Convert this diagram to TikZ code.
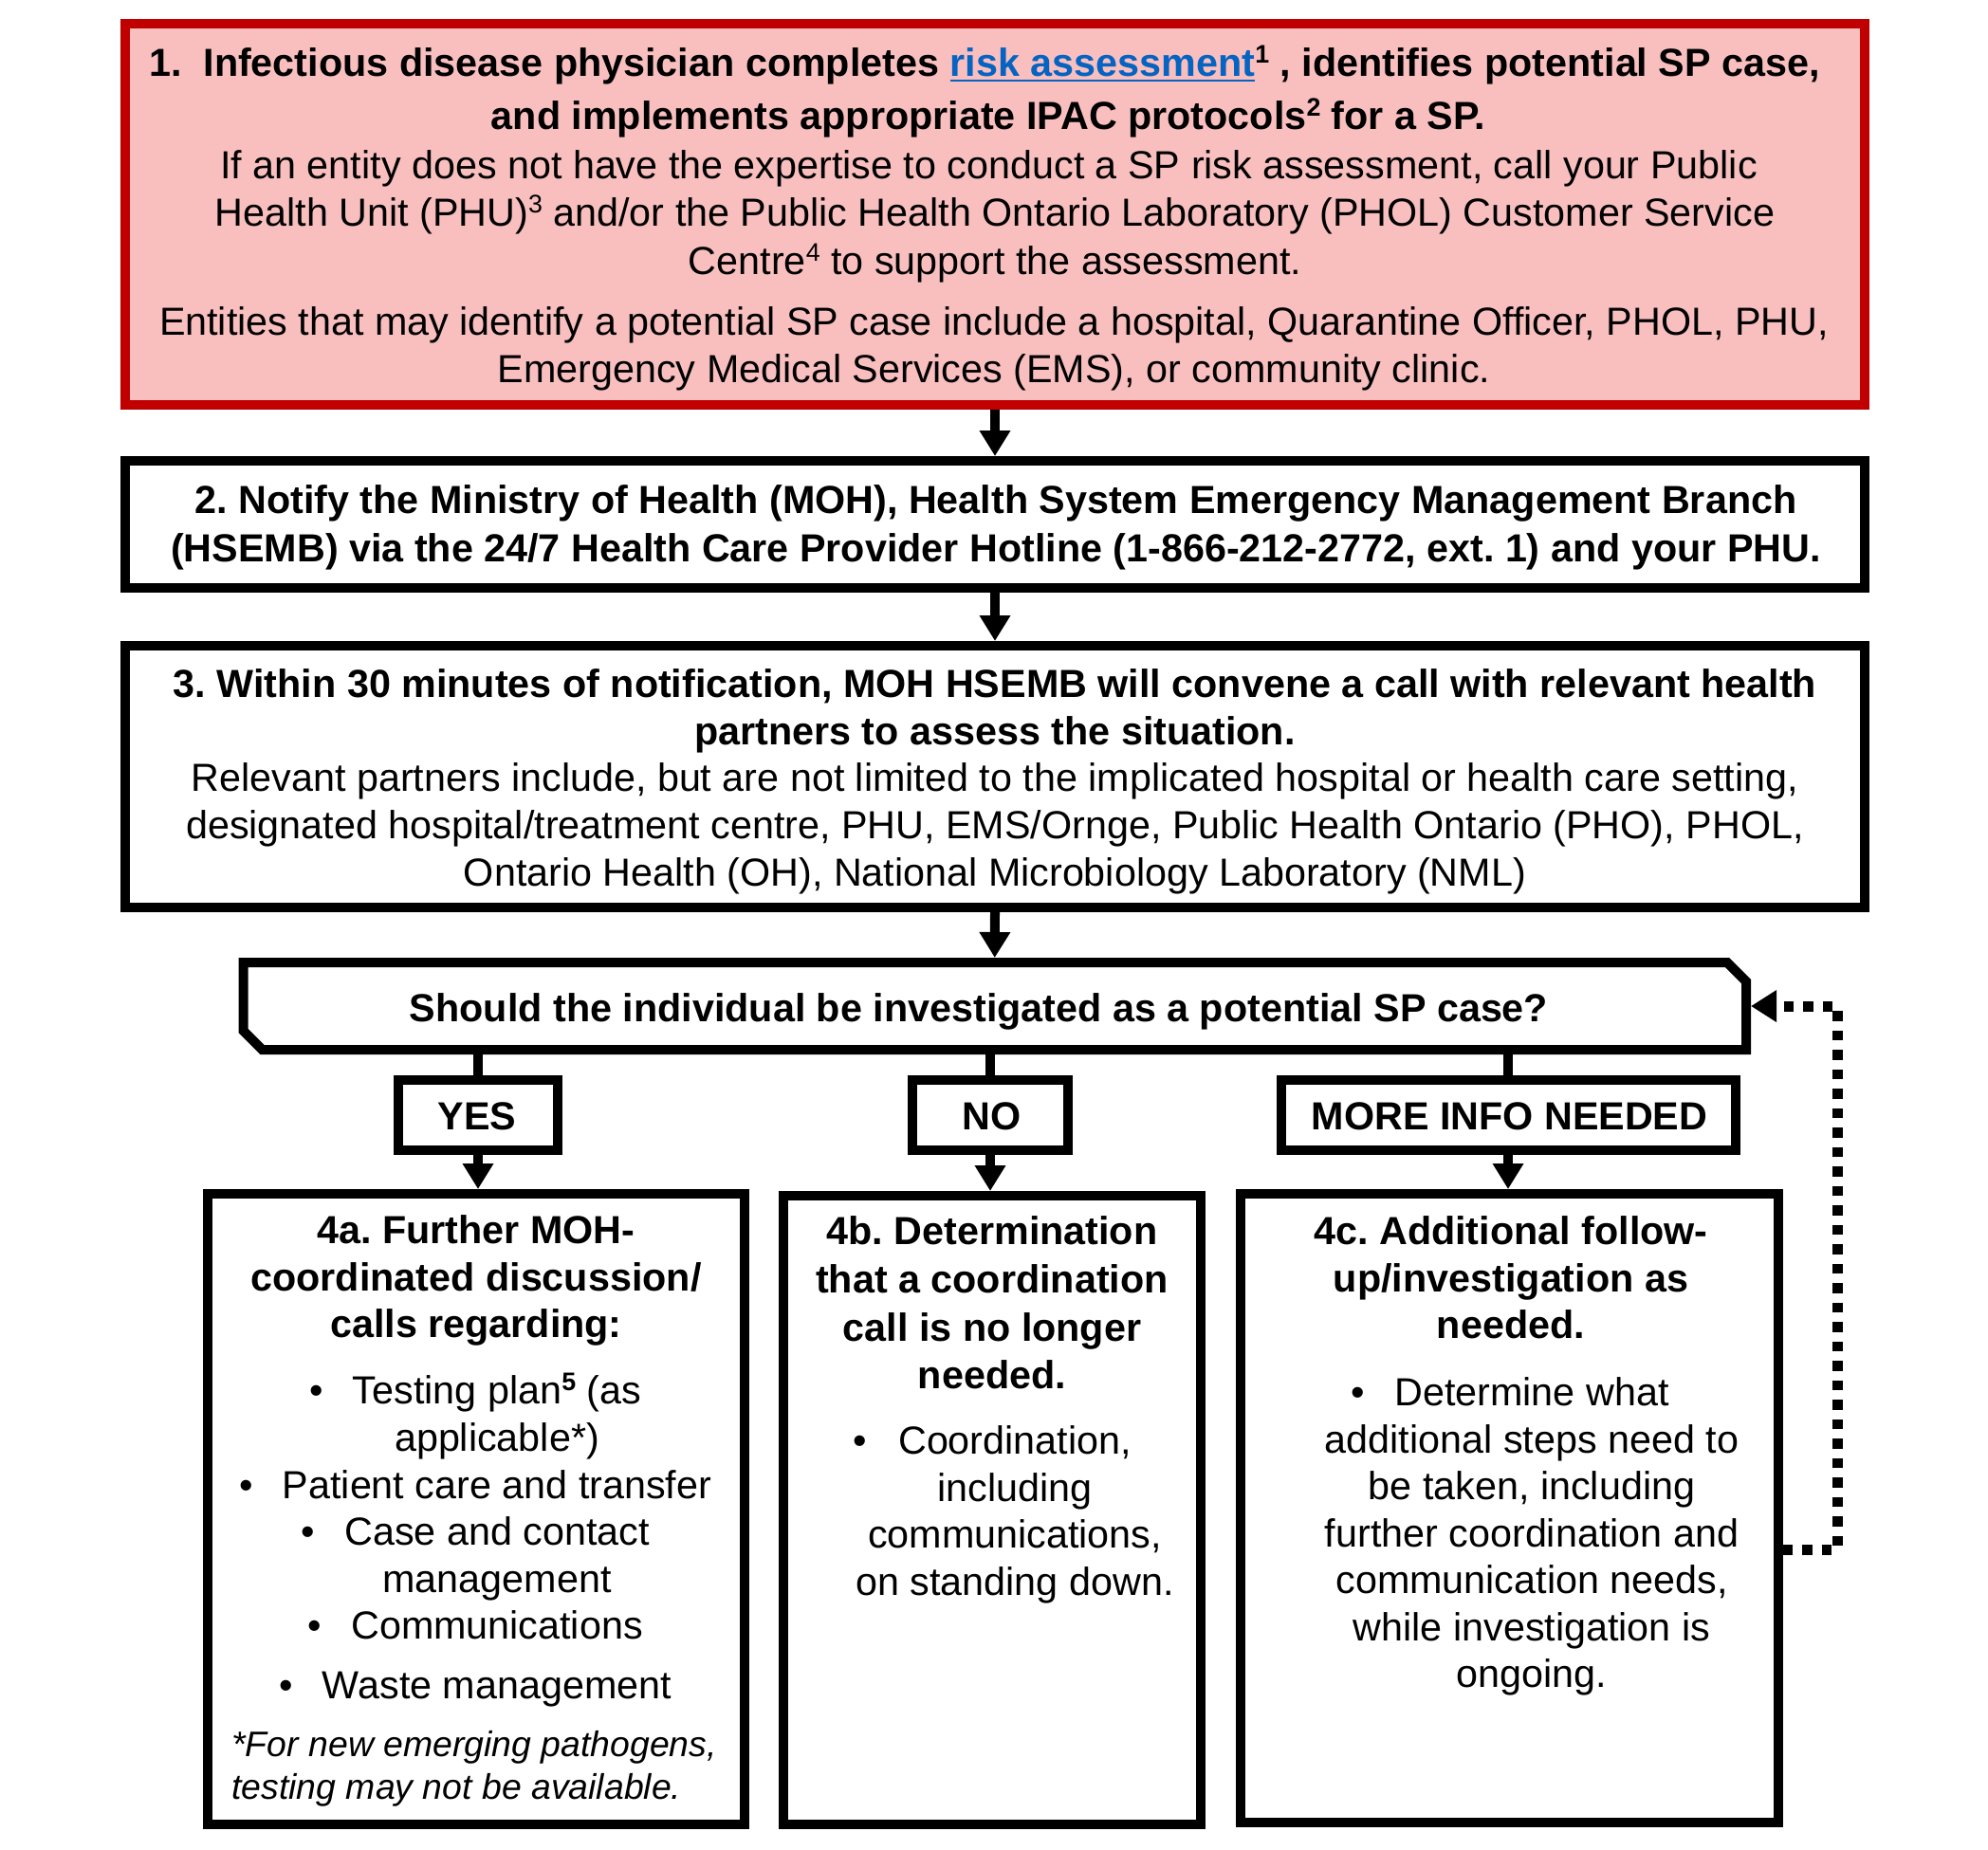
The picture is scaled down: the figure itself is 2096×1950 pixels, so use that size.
\documentclass[tikz,border=0pt]{standalone}
\usepackage{fontspec}
\setmainfont{Liberation Sans}
\usetikzlibrary{arrows.meta,calc}
\definecolor{pinkfill}{RGB}{249,191,191}
\definecolor{darkred}{RGB}{192,0,0}
\definecolor{linkblue}{RGB}{5,99,193}
\frenchspacing
\newcommand{\sups}[1]{\raisebox{0.33em}{\fontsize{13.4}{14}\selectfont #1}}
\newcommand{\lnk}[1]{\textcolor{linkblue}{\setbox0\hbox{#1}\rlap{\rule[-3.2pt]{\wd0}{1.4pt}}\box0}}
\begin{document}
\begin{tikzpicture}[x=0.5pt,y=-0.5pt,
  box/.style={draw=black, line width=5pt, fill=white, inner sep=0pt},
  redbox/.style={draw=darkred, line width=5pt, fill=pinkfill, inner sep=0pt},
  hidbox/.style={draw=none, inner sep=0pt, outer sep=0pt},
  rt/.style={inner sep=0pt, anchor=base, font=\fontsize{20.65}{24}\selectfont},
  bt/.style={inner sep=0pt, anchor=base, font=\fontsize{20.65}{24}\selectfont\bfseries},
  itx/.style={inner sep=0pt, anchor=base west, font=\fontsize{18.7}{22}\selectfont\itshape},
  conn/.style={line width=5pt, -{Triangle[length=13.5pt,width=15.5pt]}},
  plain/.style={line width=5pt},
  decline/.style={line width=5pt, line join=miter},
  fbline/.style={line width=5.5pt, dash pattern=on 5.25pt off 5pt, -{Triangle[length=13.5pt,width=16pt]}}
]
\fill[white] (0,0) rectangle (2096,1950);
\useasboundingbox (0,0) rectangle (2096,1950);

% ---------- boxes ----------
\node[redbox, minimum width=917pt, minimum height=201pt] (b1) at (1049,226) {};
\node[box, minimum width=917pt, minimum height=67pt] (b2) at (1049,553) {};
\node[box, minimum width=917pt, minimum height=138pt] (b3) at (1049,819) {};
\node[hidbox, minimum width=792.25pt, minimum height=46pt] (dec) at (1048.75,1061) {};
\draw[decline] (dec.north west) -- ($(dec.north east)+(-20,0)$) -- ($(dec.north east)+(0,20)$)
  -- (dec.south east) -- ($(dec.south west)+(20,0)$) -- ($(dec.south west)+(0,-20)$) -- cycle;
\coordinate (decN) at ($(dec.north)+(0,-5)$);
\coordinate (decE) at ($(dec.east)+(5,0)$);
\node[box, minimum width=84pt, minimum height=37pt] (yes) at (504,1176) {};
\node[box, minimum width=82.25pt, minimum height=37pt] (no) at (1044,1176) {};
\node[box, minimum width=239.5pt, minimum height=37pt] (more) at (1590,1176) {};
\node[box, minimum width=283pt, minimum height=332.5pt] (a4) at (502,1591.5) {};
\node[box, minimum width=220pt, minimum height=331.5pt] (b4) at (1046,1592.5) {};
\node[box, minimum width=283.5pt, minimum height=331.5pt] (c4) at (1591,1590.5) {};

% ---------- connectors ----------
\draw[conn] (b1.south) -- (b2.north);
\draw[conn] (b2.south) -- (b3.north);
\draw[conn] (b3.south) -- (decN);
\draw[plain] (yes.north |- dec.south) -- (yes.north);
\draw[plain] (no.north |- dec.south) -- (no.north);
\draw[plain] (more.north |- dec.south) -- (more.north);
\draw[conn] (yes.south) -- (yes.south |- a4.north);
\draw[conn] (no.south) -- (no.south |- b4.north);
\draw[conn] (more.south) -- (more.south |- c4.north);
\coordinate (fbA) at (1937,1634);
\coordinate (fbB) at (1937,1061);
\draw[fbline] (c4.east |- fbA) -- (fbA) -- (fbB) -- (decE);

% ---------- box 1 text ----------
\node[bt] (t1) at (1038,80) {1.\ \ Infectious disease physician completes \lnk{risk assessment}\sups{1} , identifies potential SP case,};
\node[bt] (t2) at (1042,136) {and implements appropriate IPAC protocols\sups{2} for a SP.};
\node[rt] (t3) at (1042.5,188) {If an entity does not have the expertise to conduct a SP risk assessment, call your Public};
\node[rt] (t4) at (1049,238) {Health Unit (PHU)\sups{3} and/or the Public Health Ontario Laboratory (PHOL) Customer Service};
\node[rt] (t5) at (1049,289) {Centre\sups{4} to support the assessment.};
\node[rt] (t6) at (1048,353) {Entities that may identify a potential SP case include a hospital, Quarantine Officer, PHOL, PHU,};
\node[rt] (t7) at (1048,403) {Emergency Medical Services (EMS), or community clinic.};

% ---------- box 2 text ----------
\node[bt] (u1) at (1050,541) {2. Notify the Ministry of Health (MOH), Health System Emergency Management Branch};
\node[bt] (u2) at (1050,592) {(HSEMB) via the 24/7 Health Care Provider Hotline (1-866-212-2772, ext. 1) and your PHU.};

% ---------- box 3 text ----------
\node[bt] (v1) at (1049,735) {3. Within 30 minutes of notification, MOH HSEMB will convene a call with relevant health};
\node[bt] (v2) at (1049,785) {partners to assess the situation.};
\node[rt] (v3) at (1049,834) {Relevant partners include, but are not limited to the implicated hospital or health care setting,};
\node[rt] (v4) at (1049,884) {designated hospital/treatment centre, PHU, EMS/Ornge, Public Health Ontario (PHO), PHOL,};
\node[rt] (v5) at (1049,934) {Ontario Health (OH), National Microbiology Laboratory (NML)};

% ---------- decision ----------
\node[bt] (dq) at (1032,1077) {Should the individual be investigated as a potential SP case?};
\node[bt] (yl) at (503,1191) {YES};
\node[bt] (nl) at (1045.5,1191) {NO};
\node[bt] (ml) at (1591.5,1191) {MORE INFO NEEDED};

% ---------- 4a ----------
\node[bt] (a1) at (502,1311) {4a. Further MOH-};
\node[bt] (a2) at (502,1361) {coordinated discussion/};
\node[bt] (a3) at (502,1410) {calls regarding:};
\node[rt] (a5) at (524,1480) {Testing plan{\bfseries\sups{5}} (as};
\node[rt] (a5b) at ($(a5.base west)+(-38,0)$) {\textbullet};
\node[rt] (a6) at (524,1530) {applicable*)};
\node[rt] (a7) at (524,1580) {Patient care and transfer};
\node[rt] (a7b) at ($(a7.base west)+(-38,0)$) {\textbullet};
\node[rt] (a8) at (524,1629) {Case and contact};
\node[rt] (a8b) at ($(a8.base west)+(-38,0)$) {\textbullet};
\node[rt] (a9) at (524,1679) {management};
\node[rt] (a10) at (524,1728) {Communications};
\node[rt] (a10b) at ($(a10.base west)+(-38,0)$) {\textbullet};
\node[rt] (a11) at (524,1791) {Waste management};
\node[rt] (a11b) at ($(a11.base west)+(-38,0)$) {\textbullet};
\node[itx] (a12) at (244,1852) {*For new emerging pathogens,};
\node[itx] (a13) at (244,1897) {testing may not be available.};

% ---------- 4b ----------
\node[bt] (bb1) at (1046,1312) {4b. Determination};
\node[bt] (bb2) at (1046,1363) {that a coordination};
\node[bt] (bb3) at (1046,1414) {call is no longer};
\node[bt] (bb4) at (1046,1464) {needed.};
\node[rt] (bb5) at (1070,1533) {Coordination,};
\node[rt] (bb5b) at ($(bb5.base west)+(-40,0)$) {\textbullet};
\node[rt] (bb6) at (1070,1583) {including};
\node[rt] (bb7) at (1070,1632) {communications,};
\node[rt] (bb8) at (1070,1682) {on standing down.};

% ---------- 4c ----------
\node[bt] (cc1) at (1593,1312) {4c. Additional follow-};
\node[bt] (cc2) at (1593,1362) {up/investigation as};
\node[bt] (cc3) at (1593,1411) {needed.};
\node[rt] (cc4) at (1615,1482) {Determine what};
\node[rt] (cc4b) at ($(cc4.base west)+(-38,0)$) {\textbullet};
\node[rt] (cc5) at (1615,1532) {additional steps need to};
\node[rt] (cc6) at (1615,1581) {be taken, including};
\node[rt] (cc7) at (1615,1631) {further coordination and};
\node[rt] (cc8) at (1615,1680) {communication needs,};
\node[rt] (cc9) at (1615,1730) {while investigation is};
\node[rt] (cc10) at (1615,1779) {ongoing.};
\end{tikzpicture}
\end{document}
